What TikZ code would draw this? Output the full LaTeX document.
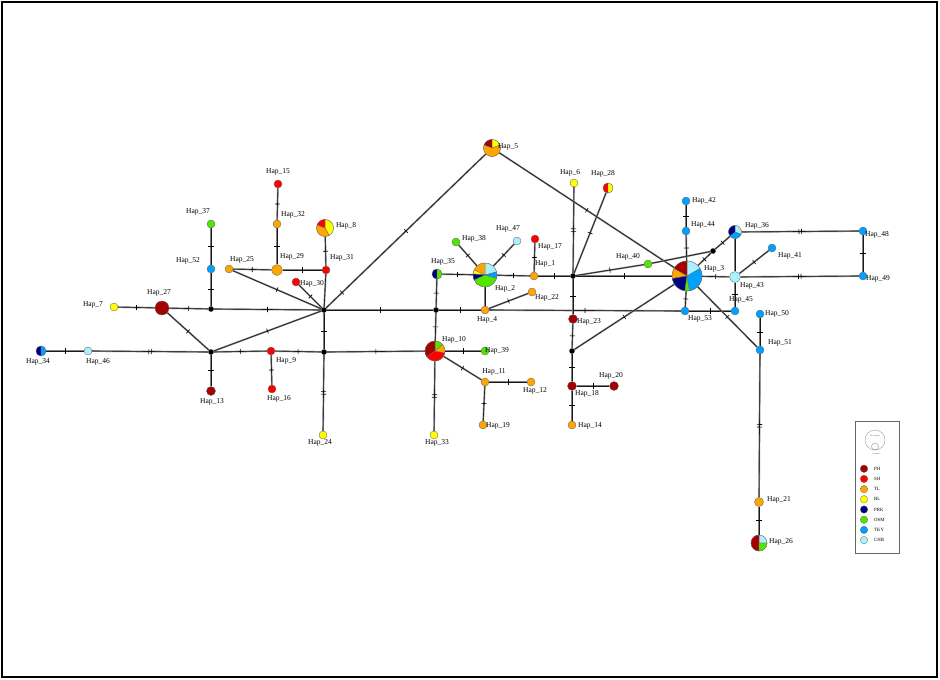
\documentclass[tikz,border=0pt]{standalone}
\usepackage{fontspec}
\setmainfont{Liberation Serif}
\usetikzlibrary{decorations.markings,backgrounds}
\definecolor{cPH}{RGB}{165,0,0}
\definecolor{cSH}{RGB}{255,0,0}
\definecolor{cTL}{RGB}{255,165,0}
\definecolor{cBL}{RGB}{255,255,0}
\definecolor{cPRK}{RGB}{0,0,128}
\definecolor{cOSM}{RGB}{80,230,0}
\definecolor{cTKY}{RGB}{0,160,255}
\definecolor{cCHB}{RGB}{170,240,255}
\newcommand{\pslice}[5]{\filldraw[fill=#5,draw=black!60,line width=0.3pt] (#1) -- ++({-(#2)}:#4) arc[start angle={-(#2)},end angle={-(#3)},radius=#4] -- cycle;}
\begin{document}
\begin{tikzpicture}[x=1pt,y=-1pt,
  hap/.style={circle,draw=black!60,line width=0.35pt,inner sep=0pt,minimum size=8pt},
  jn/.style={circle,fill=black,inner sep=0pt,minimum size=5.5pt},
  lab/.style={font=\fontsize{7.5}{8}\selectfont,inner sep=0pt},
  edge/.style={draw=black!50,line width=1.7pt,postaction={draw=black!90,line width=0.6pt}},
  t1/.style={postaction={decorate,decoration={markings,mark=at position #1 with {\draw[black,line width=0.6pt] (0pt,-2.6pt)--(0pt,2.6pt);}}}},
  t1/.default=0.5,
  t2/.style={postaction={decorate,decoration={markings,mark=at position #1 with {\draw[black,line width=0.6pt] (-1.3pt,-2.6pt)--(-1.3pt,2.6pt) (1.3pt,-2.6pt)--(1.3pt,2.6pt);}}}},
  t2/.default=0.5]
\useasboundingbox (0,0) rectangle (940,680);
\draw[line width=1.2pt] (2,2) rectangle (937,677);
% ---------- nodes left
\node[hap,fill=cSH] (h15) at (278,184) {};
\node[hap,fill=cTL] (h32) at (277,224) {};
\node[hap,fill=cOSM] (h37) at (211,224) {};
\node[hap,fill=cTKY] (h52) at (211,269) {};
\node[hap,fill=cTL] (h25) at (229,269) {};
\node[hap,fill=cTL,minimum size=11pt] (h29) at (277,270) {};
\node[hap,fill=cSH] (h31) at (326,270) {};
\node[hap,fill=white,minimum size=17pt] (h8) at (325,228) {};
\node[hap,fill=cSH] (h30) at (296,282) {};
\node[jn] (ja) at (324,310) {};
\node[jn] (jb) at (211,309) {};
\node[hap,fill=cPH,minimum size=14pt] (h27) at (162,308) {};
\node[hap,fill=cBL] (h7) at (114,307) {};
\node[hap,fill=white,minimum size=10pt] (h34) at (41,351) {};
\node[hap,fill=cCHB] (h46) at (88,351) {};
\node[jn] (jc) at (211,352) {};
\node[hap,fill=cSH] (h9) at (271,351) {};
\node[jn] (jd) at (324,352) {};
\node[hap,fill=cPH,minimum size=9pt] (h13) at (211,391) {};
\node[hap,fill=cSH] (h16) at (272,389) {};
\node[hap,fill=cBL] (h24) at (323,435) {};
% ---------- nodes middle
\node[hap,fill=white,minimum size=17pt] (h5) at (492,148) {};
\node[hap,fill=cBL] (h6) at (574,183) {};
\node[hap,fill=white,minimum size=10pt] (h28) at (608,188) {};
\node[hap,fill=cOSM] (h38) at (456,242) {};
\node[hap,fill=cCHB] (h47) at (517,241) {};
\node[hap,fill=cSH] (h17) at (535,239) {};
\node[hap,fill=white,minimum size=10pt] (h35) at (437,274) {};
\node[hap,fill=white,minimum size=24pt] (h2) at (485,275) {};
\node[hap,fill=cTL] (h1) at (534,276) {};
\node[jn] (je) at (573,276) {};
\node[hap,fill=cTL] (h22) at (532,292) {};
\node[hap,fill=cTL] (h4) at (485,310) {};
\node[jn] (jf) at (436,310) {};
\node[hap,fill=cPH,minimum size=9pt] (h23) at (573,319) {};
\node[hap,fill=white,minimum size=20pt] (h10) at (435,351) {};
\node[hap,fill=cOSM] (h39) at (485,351) {};
\node[hap,fill=cTL] (h11) at (485,382) {};
\node[hap,fill=cTL] (h12) at (531,382) {};
\node[hap,fill=cTL] (h19) at (483,425) {};
\node[hap,fill=cBL] (h33) at (434,435) {};
\node[jn] (jg) at (572,351) {};
\node[hap,fill=cPH,minimum size=9pt] (h18) at (572,386) {};
\node[hap,fill=cTL] (h14) at (572,425) {};
\node[hap,fill=cPH,minimum size=9pt] (h20) at (614,386) {};
% ---------- nodes right
\node[hap,fill=cOSM] (h40) at (648,264) {};
\node[hap,fill=cTKY] (h42) at (686,201) {};
\node[hap,fill=cTKY] (h44) at (686,231) {};
\node[jn] (jh) at (713,251) {};
\node[hap,fill=white,minimum size=13pt] (h36) at (735,232) {};
\node[hap,fill=white,minimum size=30pt] (h3) at (687,276) {};
\node[hap,fill=cTKY] (h41) at (772,248) {};
\node[hap,fill=cCHB,minimum size=11pt] (h43) at (735,277) {};
\node[hap,fill=cTKY] (h48) at (863,231) {};
\node[hap,fill=cTKY] (h49) at (863,276) {};
\node[hap,fill=cTKY] (h53) at (685,311) {};
\node[hap,fill=cTKY] (h45) at (735,311) {};
\node[hap,fill=cTKY] (h50) at (760,314) {};
\node[hap,fill=cTKY] (h51) at (760,350) {};
\node[hap,fill=cTL,minimum size=9pt] (h21) at (759,502) {};
\node[hap,fill=white,minimum size=16pt] (h26) at (759,543) {};
% ---------- edges
\begin{pgfonlayer}{background}
\draw[edge,t1] (h15) -- (h32);
\draw[edge,t1] (h32) -- (h29);
\draw[edge,t1] (h25) -- (h29);
\draw[edge,t1] (h29) -- (h31);
\draw[edge,t1] (h8) -- (h31);
\draw[edge] (h31) -- (ja);
\draw[edge,t1] (h25) -- (ja);
\draw[edge,t1] (h30) -- (ja);
\draw[edge,t1] (h37) -- (h52);
\draw[edge,t1] (h52) -- (jb);
\draw[edge,t1] (h7) -- (h27);
\draw[edge,t1] (h27) -- (jb);
\draw[edge,t1] (jb) -- (ja);
\draw[edge,t1] (h27) -- (jc);
\draw[edge,t1] (h34) -- (h46);
\draw[edge,t2] (h46) -- (jc);
\draw[edge,t1] (jc) -- (ja);
\draw[edge,t1] (jc) -- (h9);
\draw[edge,t1] (jc) -- (h13);
\draw[edge,t1] (h9) -- (h16);
\draw[edge,t1] (h9) -- (jd);
\draw[edge,t1] (ja) -- (jd);
\draw[edge,t2] (jd) -- (h24);
\draw[edge,t1] (jd) -- (h10);
\draw[edge,t1=0.1,t1=0.5] (ja) -- (h5);
\draw[edge,t1] (ja) -- (jf);
\draw[edge,t1] (jf) -- (h4);
\draw[edge,t1] (jf) -- (h35);
\draw[edge,t1] (jf) -- (h10);
\draw[edge,t1] (h35) -- (h2);
\draw[edge,t1] (h38) -- (h2);
\draw[edge,t1] (h47) -- (h2);
\draw[edge,t1] (h2) -- (h1);
\draw[edge] (h2) -- (h4);
\draw[edge,t1] (h4) -- (h22);
\draw[edge,t1] (h4) -- (h53);
\draw[edge,t1] (h53) -- (h45);
\draw[edge,t1] (h17) -- (h1);
\draw[edge,t1] (h1) -- (je);
\draw[edge,t2] (h6) -- (je);
\draw[edge,t1] (h28) -- (je);
\draw[edge,t1] (h5) -- (h3);
\draw[edge,t1] (je) -- (h23);
\draw[edge,t1] (h23) -- (jg);
\draw[edge,t1] (jg) -- (h18);
\draw[edge,t1] (h18) -- (h14);
\draw[edge,t1] (h18) -- (h20);
\draw[edge,t1] (jg) -- (h3);
\draw[edge,t1] (je) -- (h3);
\draw[edge,t1] (je) -- (h40);
\draw[edge] (h40) -- (jh);
\draw[edge,t1] (jh) -- (h36);
\draw[edge,t1] (jh) -- (h3);
\draw[edge,t1] (h42) -- (h44);
\draw[edge,t1] (h44) -- (h3);
\draw[edge,t1] (h3) -- (h53);
\draw[edge,t1] (h3) -- (h43);
\draw[edge] (h36) -- (h43);
\draw[edge,t1] (h43) -- (h45);
\draw[edge,t1] (h41) -- (h43);
\draw[edge,t2] (h36) -- (h48);
\draw[edge,t1] (h48) -- (h49);
\draw[edge,t2] (h43) -- (h49);
\draw[edge,t1] (h3) -- (h51);
\draw[edge,t1] (h50) -- (h51);
\draw[edge,t2] (h51) -- (h21);
\draw[edge,t1] (h21) -- (h26);
\draw[edge,t1] (h10) -- (h39);
\draw[edge,t1] (h10) -- (h11);
\draw[edge,t1] (h11) -- (h12);
\draw[edge,t1] (h11) -- (h19);
\draw[edge,t2] (h10) -- (h33);
\end{pgfonlayer}
% ---------- pies
\pslice{h8.center}{-60}{90}{8.5}{cBL}
\pslice{h8.center}{90}{160}{8.5}{cSH}
\pslice{h8.center}{160}{300}{8.5}{cTL}
\pslice{h5.center}{20}{90}{8.5}{cBL}
\pslice{h5.center}{90}{160}{8.5}{cPH}
\pslice{h5.center}{160}{380}{8.5}{cTL}
\pslice{h2.center}{15}{90}{12}{cCHB}
\pslice{h2.center}{90}{155}{12}{cTL}
\pslice{h2.center}{155}{175}{12}{cBL}
\pslice{h2.center}{175}{205}{12}{cPRK}
\pslice{h2.center}{205}{345}{12}{cOSM}
\pslice{h2.center}{345}{375}{12}{cTKY}
\pslice{h35.center}{90}{270}{5}{cPRK}
\pslice{h35.center}{270}{450}{5}{cOSM}
\pslice{h10.center}{40}{90}{10}{cOSM}
\pslice{h10.center}{90}{215}{10}{cPH}
\pslice{h10.center}{215}{350}{10}{cSH}
\pslice{h10.center}{350}{400}{10}{cTL}
\pslice{h28.center}{90}{270}{5}{cSH}
\pslice{h28.center}{270}{450}{5}{cBL}
\pslice{h3.center}{30}{90}{15}{cCHB}
\pslice{h3.center}{90}{150}{15}{cPH}
\pslice{h3.center}{150}{190}{15}{cTL}
\pslice{h3.center}{190}{262}{15}{cPRK}
\pslice{h3.center}{262}{280}{15}{cOSM}
\pslice{h3.center}{280}{390}{15}{cTKY}
\pslice{h36.center}{-20}{90}{6.5}{cCHB}
\pslice{h36.center}{90}{220}{6.5}{cPRK}
\pslice{h36.center}{220}{340}{6.5}{cTKY}
\pslice{h26.center}{0}{90}{8}{cCHB}
\pslice{h26.center}{90}{270}{8}{cPH}
\pslice{h26.center}{270}{360}{8}{cOSM}
\pslice{h34.center}{90}{270}{5}{cPRK}
\pslice{h34.center}{270}{450}{5}{cTKY}
% ---------- labels
\node[lab] (l15) at (278,172) {Hap\_15};
\node[lab] (l32) at (293,215) {Hap\_32};
\node[lab] (l37) at (198,212) {Hap\_37};
\node[lab] (l52) at (188,261) {Hap\_52};
\node[lab] (l25) at (242,260) {Hap\_25};
\node[lab] (l29) at (292,257) {Hap\_29};
\node[lab] (l8) at (346,226) {Hap\_8};
\node[lab] (l31) at (342,258) {Hap\_31};
\node[lab] (l30) at (312,284) {Hap\_30};
\node[lab] (l27) at (159,293) {Hap\_27};
\node[lab] (l7) at (93,305) {Hap\_7};
\node[lab] (l34) at (38,362) {Hap\_34};
\node[lab] (l46) at (98,362) {Hap\_46};
\node[lab] (l13) at (212,402) {Hap\_13};
\node[lab] (l9) at (286,361) {Hap\_9};
\node[lab] (l16) at (279,399) {Hap\_16};
\node[lab] (l24) at (320,443) {Hap\_24};
\node[lab] (l5) at (508,147) {Hap\_5};
\node[lab] (l6) at (570,173) {Hap\_6};
\node[lab] (l28) at (603,174) {Hap\_28};
\node[lab] (l38) at (474,239) {Hap\_38};
\node[lab] (l47) at (508,229) {Hap\_47};
\node[lab] (l17) at (550,247) {Hap\_17};
\node[lab] (l35) at (443,262) {Hap\_35};
\node[lab] (l1) at (545,264) {Hap\_1};
\node[lab] (l2) at (505,289) {Hap\_2};
\node[lab] (l22) at (547,298) {Hap\_22};
\node[lab] (l4) at (487,320) {Hap\_4};
\node[lab] (l10) at (454,340) {Hap\_10};
\node[lab] (l39) at (497,351) {Hap\_39};
\node[lab] (l11) at (494,372) {Hap\_11};
\node[lab] (l12) at (535,391) {Hap\_12};
\node[lab] (l19) at (498,426) {Hap\_19};
\node[lab] (l33) at (437,443) {Hap\_33};
\node[lab] (l23) at (589,322) {Hap\_23};
\node[lab] (l18) at (587,394) {Hap\_18};
\node[lab] (l14) at (590,426) {Hap\_14};
\node[lab] (l20) at (611,376) {Hap\_20};
\node[lab] (l40) at (628,257) {Hap\_40};
\node[lab] (l42) at (704,201) {Hap\_42};
\node[lab] (l44) at (703,225) {Hap\_44};
\node[lab] (l36) at (757,226) {Hap\_36};
\node[lab] (l3) at (714,269) {Hap\_3};
\node[lab] (l41) at (790,256) {Hap\_41};
\node[lab] (l43) at (752,286) {Hap\_43};
\node[lab] (l45) at (741,300) {Hap\_45};
\node[lab] (l53) at (700,319) {Hap\_53};
\node[lab] (l48) at (877,235) {Hap\_48};
\node[lab] (l49) at (878,279) {Hap\_49};
\node[lab] (l50) at (777,314) {Hap\_50};
\node[lab] (l51) at (780,343) {Hap\_51};
\node[lab] (l21) at (779,500) {Hap\_21};
\node[lab] (l26) at (781,542) {Hap\_26};
% ---------- legend
\node[draw=black!60,line width=0.5pt,minimum width=44pt,minimum height=132pt,inner sep=0pt] (leg) at (877,487) {};
\node[circle,draw=black!50,line width=0.3pt,minimum size=20pt,inner sep=0pt] (ls10) at (875,440) {};
\node[circle,draw=black!50,line width=0.3pt,minimum size=7pt,inner sep=0pt] (ls1) at (875,446.5) {};
\node[font=\fontsize{2.2}{2.5}\selectfont,text=black!60,inner sep=0pt] (lt10) at (875,436) {10 samples};
\node[font=\fontsize{2.2}{2.5}\selectfont,text=black!60,inner sep=0pt] (lt1) at (876,454) {1 sample};
\foreach \c/\t [count=\i] in {cPH/PH,cSH/SH,cTL/TL,cBL/BL,cPRK/PRK,cOSM/OSM,cTKY/TKY,cCHB/CHB}{
  \node[circle,fill=\c,draw=black!60,line width=0.3pt,minimum size=7.5pt,inner sep=0pt] (lc\i) at (864,{458.5+10.2*\i}) {};
  \node[font=\fontsize{4.8}{5}\selectfont,anchor=west,inner sep=0pt] (lx\i) at (874,{458.5+10.2*\i}) {\t};
}
\end{tikzpicture}
\end{document}
